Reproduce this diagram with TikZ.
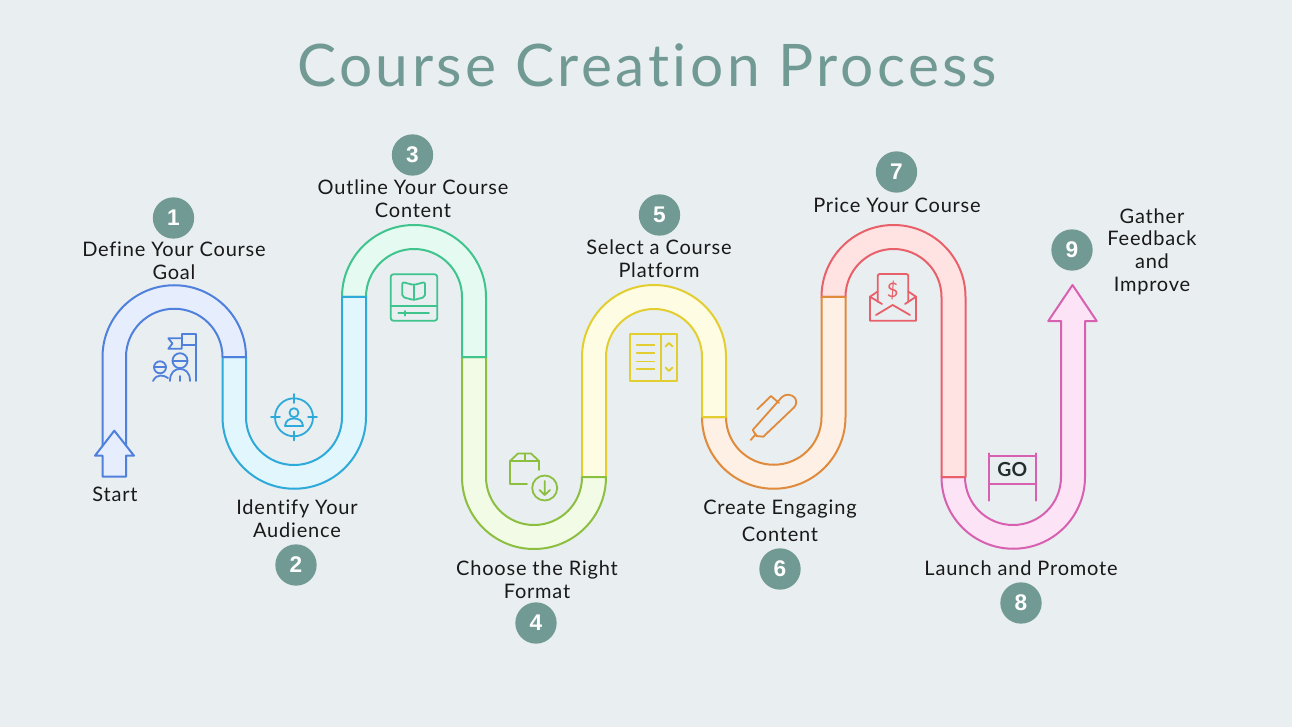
\documentclass[tikz,border=0pt]{standalone}
\usepackage{xcolor}
\usepackage{fontspec}
\setmainfont{Lato}
\newfontfamily\labelfont[LetterSpace=4,Ligatures=NoCommon]{Lato}
\newfontfamily\headfont[LetterSpace=6,Ligatures=NoCommon]{Lato}
\newfontfamily\badgefont{Liberation Sans}
\definecolor{backcol}{HTML}{E9EEF1}
\definecolor{tealcol}{HTML}{729A95}
\definecolor{bluecol}{HTML}{4F80DC}
\definecolor{bluefill}{HTML}{E6EEFE}
\definecolor{cyancol}{HTML}{2DAAD9}
\definecolor{cyanfill}{HTML}{E2F7FD}
\definecolor{greencol}{HTML}{3EC48C}
\definecolor{greenfill}{HTML}{E5FAF1}
\definecolor{limecol}{HTML}{8CBF3F}
\definecolor{limefill}{HTML}{F2FBE6}
\definecolor{yellowcol}{HTML}{E3CE2F}
\definecolor{yellowfill}{HTML}{FEFCE3}
\definecolor{orangecol}{HTML}{E08A3C}
\definecolor{orangefill}{HTML}{FEF0E4}
\definecolor{redcol}{HTML}{E8606A}
\definecolor{redfill}{HTML}{FFE3E3}
\definecolor{pinkcol}{HTML}{D860B0}
\definecolor{pinkfill}{HTML}{FCE4F6}
\tikzset{
  pipe/.style 2 args={draw=#1,fill=#2,line width=1.5pt,line join=round},
  icon/.style={draw=#1,line width=1.35pt,line cap=round,line join=round},
  badge/.style={circle,fill=tealcol,text=white,minimum size=31pt,inner sep=0pt,font=\badgefont\fontsize{17}{17}\selectfont\bfseries},
  steplabel/.style={align=center,inner sep=0pt,text=black!90,font=\labelfont\fontsize{15}{17}\selectfont},
}
\begin{document}
\begin{tikzpicture}[x=0.75pt,y=-0.75pt]
    \useasboundingbox (0,0) rectangle (1292,727);
    \fill[backcol] (0,0) rectangle (1292,727);
    % Title
    \node[text=tealcol,font=\headfont\fontsize{44}{44}\selectfont] (title) at (647,65) {Course Creation Process};
    %pipe, last piece first so that each piece lies over the next one
    \draw[pipe={pinkcol}{pinkfill}] (941.5,477) arc[start angle=180,end angle=0,radius=71.75] -- (1085,321) -- (1096.7,321) -- (1072.5,285) -- (1048.3,321) -- (1061,321) -- (1061,477) arc[start angle=0,end angle=180,radius=48] -- cycle;
    \draw[pipe={redcol}{redfill}] (821.5,297) arc[start angle=180,end angle=360,radius=72] -- (965.5,477) -- (941.5,477) -- (941.5,297) arc[start angle=360,end angle=180,radius=48] -- cycle;
    \draw[pipe={orangecol}{orangefill}] (702,417) arc[start angle=180,end angle=0,radius=71.75] -- (845.5,297) -- (821.5,297) -- (821.5,417) arc[start angle=0,end angle=180,radius=47.75] -- cycle;
    \draw[pipe={yellowcol}{yellowfill}] (582,357) arc[start angle=180,end angle=360,radius=72] -- (726,417) -- (702,417) -- (702,357) arc[start angle=360,end angle=180,radius=48] -- (606,477) -- (582,477) -- cycle;
    \draw[pipe={limecol}{limefill}] (462,477) arc[start angle=180,end angle=0,radius=72] -- (582,477) arc[start angle=0,end angle=180,radius=48] -- (486,357) -- (462,357) -- cycle;
    \draw[pipe={greencol}{greenfill}] (342,297) arc[start angle=180,end angle=360,radius=72] -- (486,357) -- (462,357) -- (462,297) arc[start angle=360,end angle=180,radius=48] -- cycle;
    \draw[pipe={cyancol}{cyanfill}] (222.5,417) arc[start angle=180,end angle=0,radius=71.75] -- (366,297) -- (342,297) -- (342,417) arc[start angle=0,end angle=180,radius=48] -- (246,357) -- (222.5,357) -- cycle;
    \draw[pipe={bluecol}{bluefill}] (102.5,450) -- (102.5,357) arc[start angle=180,end angle=360,radius=71.75] -- (222.5,357) arc[start angle=360,end angle=180,radius=48.25] -- (126,450);
    %start arrow
    \draw[pipe={bluecol}{bluefill}] (114.3,430.7) -- (134,455.7) -- (126,455.7) -- (126,476.7) -- (102.7,476.7) -- (102.7,455.7) -- (95,455.7) -- cycle;
    %numbers
    \node[badge] (one) at (173.5,218) {1};
    \node[badge] (two) at (296,565) {2};
    \node[badge] (three) at (412.5,155) {3};
    \node[badge] (four) at (536,623) {4};
    \node[badge] (five) at (659.5,215) {5};
    \node[badge] (six) at (780,569) {6};
    \node[badge] (seven) at (896.5,172) {7};
    \node[badge] (eight) at (1021,603) {8};
    \node[badge] (nine) at (1072,250) {9};
    %labels
    \node[steplabel] (start) at (115,494) {Start};
    \node[steplabel] (goal) at (174,261) {Define Your Course\\Goal};
    \node[steplabel] (audience) at (297,519) {Identify Your\\Audience};
    \node[steplabel] (outline) at (413,198.5) {Outline Your Course\\Content};
    \node[steplabel] (format) at (537,580) {Choose the Right\\Format};
    \node[steplabel] (platform) at (659,258.5) {Select a Course\\Platform};
    \node[steplabel] (engaging) at (780,520.5) {Create Engaging\\[3pt]Content};
    \node[steplabel] (price) at (897,205) {Price Your Course};
    \node[steplabel] (launch) at (1021,568) {Launch and Promote};
    \node[steplabel] (gather) at (1152,251.5) {Gather\\Feedback\\and\\Improve};
    %flag and people
    \draw[icon=bluecol] (196,381)--(196,334)--(181.7,334)--(181.7,345)--(196,345);
    \draw[icon=bluecol] (181.7,338.3)--(168.3,338.3)--(172.5,343.5)--(168.3,348.7)--(181.7,348.7)--(181.7,345);
    \draw[icon=bluecol] (180,360.7) circle (7.5);
    \draw[icon=bluecol] (172.5,360.7)--(187.5,360.7);
    \draw[icon=bluecol] (170,381) .. controls (170,372) and (175,369) .. (180,369) .. controls (185,369) and (190,372) .. (190,381);
    \draw[icon=bluecol] (180,376)--(180,381);
    \draw[icon=bluecol] (160,367.3) circle (6);
    \draw[icon=bluecol] (154,367.3)--(166,367.3);
    \draw[icon=bluecol] (153,381) .. controls (155,377) and (158,375.5) .. (160.5,375.5) .. controls (163,375.5) and (166,376.5) .. (168,378);
    %target
    \draw[icon=cyancol] (294,417.3) circle (19);
    \draw[icon=cyancol] (294,394)--(294,403) (294,431.5)--(294,440.5) (271,417.3)--(280,417.3) (308,417.3)--(317,417.3);
    \draw[icon=cyancol] (294,412.7) circle (4.5);
    \draw[icon=cyancol] (285,426) .. controls (285.5,420) and (290,418.5) .. (294,418.5) .. controls (298,418.5) and (302.5,420) .. (303,426) -- cycle;
    %book
    \draw[icon=greencol,rounded corners=2] (390.7,274.3) rectangle (437.3,320.7);
    \draw[icon=greencol] (390.7,306)--(437.3,306);
    \draw[icon=greencol] (398.3,313.3)--(429,313.3) (405,311)--(405,315.6);
    \draw[icon=greencol,rounded corners=1.5] (413.7,285)--(402.3,282)--(402.3,297)--(413.7,300)--(425,297)--(425,282)--cycle;
    \draw[icon=greencol] (413.7,285)--(413.7,300);
    %box
    \draw[icon=limecol] (527,484)--(510,484)--(510,461)--(518,453.5)--(531,453.5)--(539,461)--(539,470);
    \draw[icon=limecol] (510,461)--(539,461) (525,453.5)--(525,461);
    \draw[icon=limecol] (544.7,488) circle (12.5);
    \draw[icon=limecol] (544.7,481)--(544.7,495) (539.5,490)--(544.7,495)--(549.9,490);
    %list
    \draw[icon=yellowcol] (630,334) rectangle (676.7,380.7);
    \draw[icon=yellowcol] (661,334)--(661,380.7);
    \draw[icon=yellowcol] (636.7,345)--(654.3,345) (636.7,353.3)--(654.3,353.3) (636.7,361.5)--(654.3,361.5) (636.7,369.3)--(654.3,369.3);
    \draw[icon=yellowcol] (665.5,346.5)--(669,343)--(672.5,346.5) (665.5,367.5)--(669,371)--(672.5,367.5);
    %pen
    \draw[icon=orangecol] (756,434)--(750.7,440);
    \draw[icon=orangecol] (752.7,430)--(781.7,397.3) .. controls (785,393.5) and (792,394) .. (795,398) .. controls (797,401) and (796.5,405) .. (794,407.5) -- (763.3,436.7) -- (756.5,436) -- cycle;
    \draw[icon=orangecol] (757.3,409.3)--(771,396)--(779,403);
    %envelope
    \draw[icon=redcol,rounded corners=1.5] (877.7,301.7)--(877.7,274)--(908.3,274)--(908.3,301.7);
    \draw[icon=redcol] (877.7,291.5)--(870,296.7)--(870,320.7)--(916,320.7)--(916,296.7)--(908.3,291.5);
    \draw[icon=redcol] (870,296.7)--(882,304) (916,296.7)--(905,304);
    \draw[icon=redcol] (876,315)--(892.7,305)--(910,315);
    \node[text=redcol,font=\fontsize{15}{15}\selectfont] (dollar) at (892.7,290.5) {\$};
    %go sign
    \draw[icon=pinkcol] (989.3,453.3)--(989.3,500.7) (1035.7,453.3)--(1035.7,500.7);
    \draw[icon=pinkcol] (989.3,456)--(1035.7,456) (989.3,484)--(1035.7,484);
    \node[text=black!70!tealcol,font=\fontsize{14.5}{15}\selectfont\bfseries] (go) at (1012.3,469.5) {GO};
\end{tikzpicture}
\end{document}
